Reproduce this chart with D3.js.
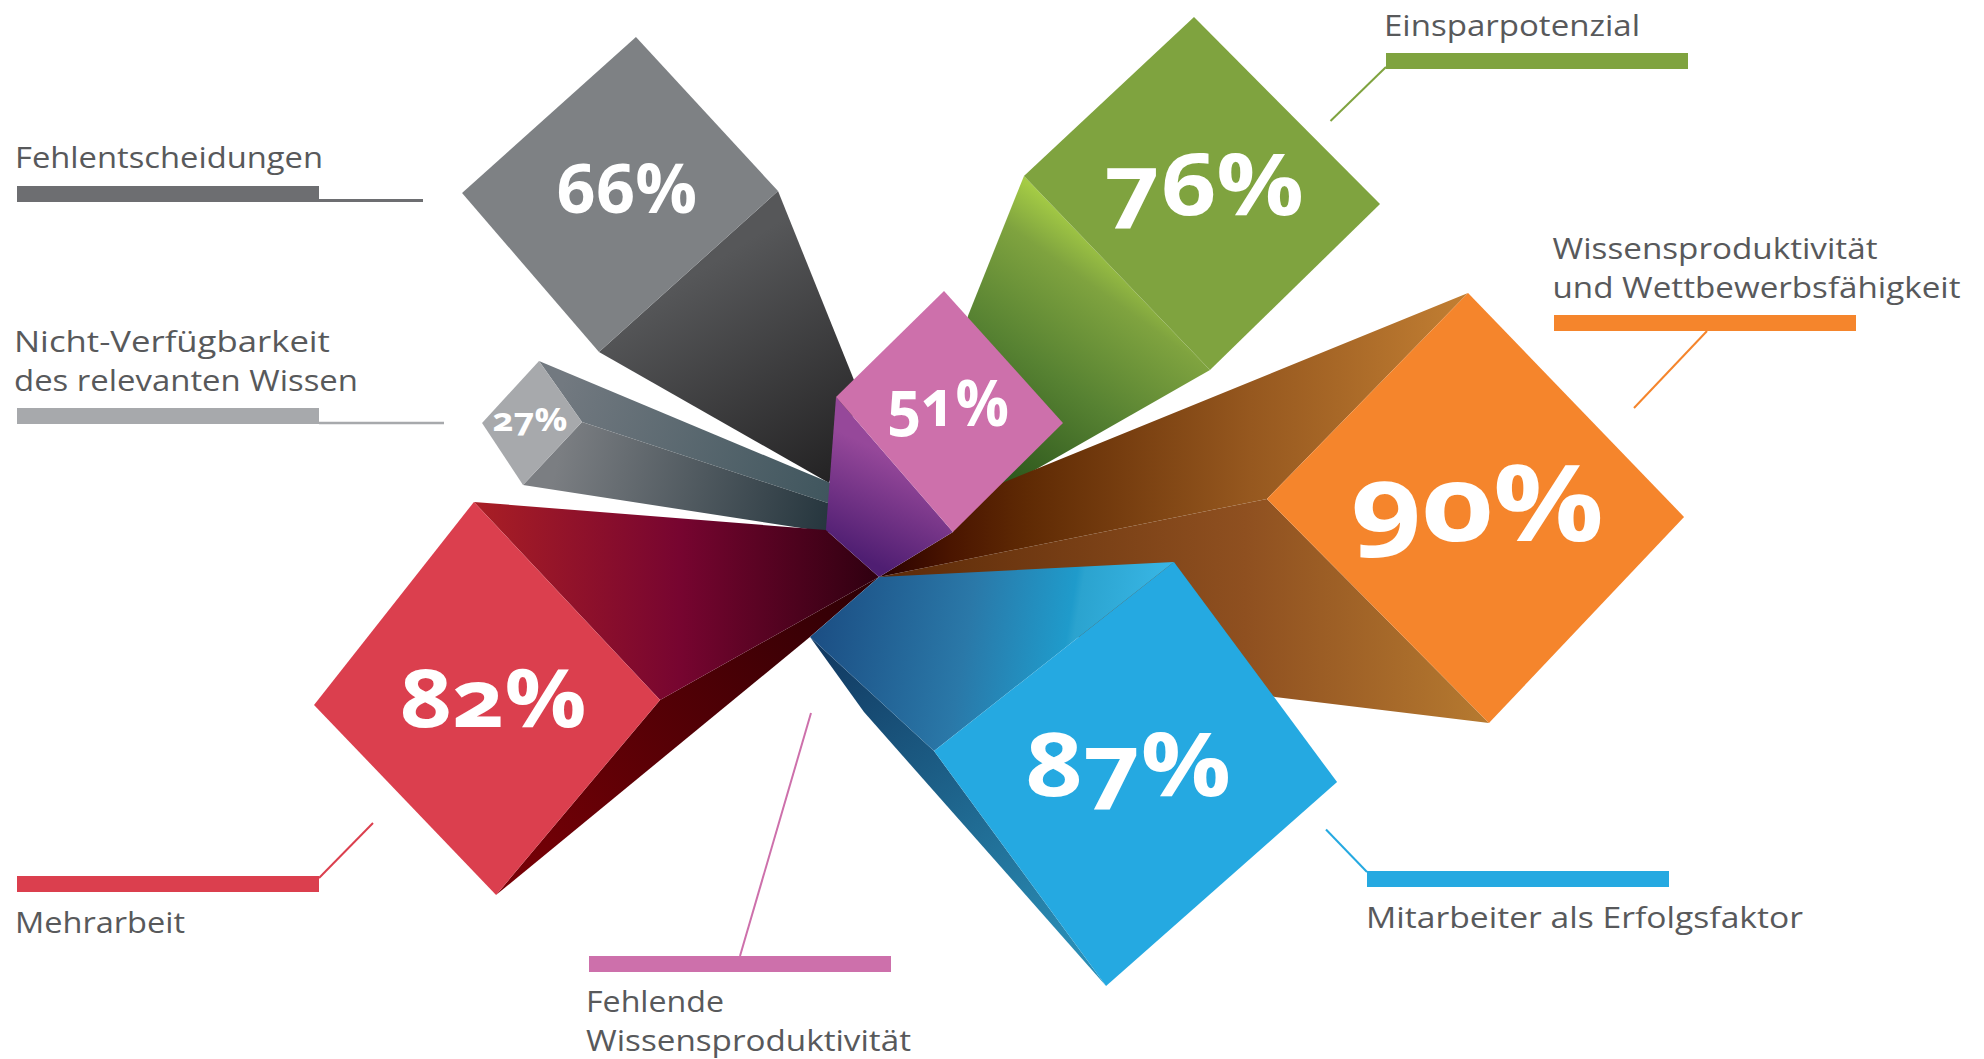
<!DOCTYPE html>
<html><head><meta charset="utf-8">
<script src="https://cdn.jsdelivr.net/npm/d3@7/dist/d3.min.js"></script>
<style>html,body{margin:0;padding:0;background:#fff;overflow:hidden}svg{display:block}
text{font-family:"Open Sans",sans-serif}</style></head><body>
<svg id="c" width="1984" height="1059"></svg>
<script>
// ---- data
const categories = ["Fehlentscheidungen","Nicht-Verfügbarkeit des relevanten Wissen","Einsparpotenzial","Fehlende Wissensproduktivität","Wissensproduktivität und Wettbewerbsfähigkeit","Mitarbeiter als Erfolgsfaktor","Mehrarbeit"];
const values = [66,27,76,51,90,87,82];
const labelLines = [["Fehlentscheidungen"],["Nicht-Verfügbarkeit","des relevanten Wissen"],["Einsparpotenzial"],["Fehlende","Wissensproduktivität"],["Wissensproduktivität","und Wettbewerbsfähigkeit"],["Mitarbeiter als Erfolgsfaktor"],["Mehrarbeit"]];

// ---- layout and style (offsets from the hub, in units of the value scale)
const hub = [879,577];
const size = d3.scaleLinear().domain([0,100]).range([0,250]);
const colors = ["#7e8184","#a7a9ac","#7fa33f","#cd70ab","#f5852c","#25a9e1","#db3f4e"];
const barColors = ["#6d6e71","#a7a9ac","#7fa33f","#cd70ab","#f5852c","#25a9e1","#db3f4e"];
const drawOrder = [0,1,2,6,4,5,3];
const diamonds = [
 [[-1.473,-3.273],[-.612,-2.339],[-1.697,-1.364],[-2.527,-2.327]],
 [[-5.037,-3.2],[-4.4,-2.296],[-5.274,-1.363],[-5.881,-2.281]],
 [[1.658,-2.947],[2.637,-1.963],[1.742,-1.089],[.763,-2.111]],
 [[.51,-2.243],[1.443,-1.208],[.58,-.353],[-.337,-1.412]],
 [[2.618,-1.262],[3.578,-.267],[2.711,.649],[1.724,-.347]],
 [[1.356,-.069],[2.106,.943],[1.044,1.88],[.253,.8]],
 [[-1.976,-.366],[-1.068,.6],[-1.868,1.551],[-2.756,.624]]
];
const sideFaces = [
 [{p:[[-.612,-2.339],[-1.697,-1.364],[-.303,-.57],[-.115,-1.103]],g:[700,270,830,480],s:[[0,"#565759"],[1,"#242324"]]}],
 [{p:[[-5.037,-3.2],[-4.4,-2.296],[-.578,-1.037],[-.578,-1.333]],g:[560,390,830,490],s:[[0,"#727980"],[1,"#40565e"]]},
  {p:[[-4.4,-2.296],[-5.274,-1.363],[-.578,-.637],[-.578,-1.037]],g:[560,450,830,515],s:[[0,"#7b7e82"],[1,"#26363e"]]}],
 [{p:[[.763,-2.111],[1.742,-1.089],[.637,-.458],[.374,-.668],[.468,-1.374]],g:[1080,220,930,430],s:[[0,"#a5cc45"],[.18,"#7fa33f"],[.55,"#578232"],[1,"#2c561c"]]}],
 [{p:[[-.337,-1.412],[.58,-.353],[0,0],[-.416,-.369]],g:[900,460,855,555],s:[[0,"#96489a"],[1,"#4f1e72"]]}],
 [{p:[[1.76,.533],[2.711,.649],[1.724,-.347],[0,0]],g:[880,0,1489,0],s:[[0,"#5c2a08"],[.6,"#8f5020"],[1,"#b67a30"]]},
  {p:[[2.618,-1.262],[1.724,-.347],[0,0],[.329,-.2],[.36,-.342]],g:[880,0,1468,0],s:[[0,"#2a0000"],[.12,"#4a1500"],[.25,"#5f2a04"],[.63,"#96581f"],[1,"#c27f33"]]}],
 [{p:[[-.317,.276],[.253,.8],[1.044,1.88],[-.069,.621]],g:[830,650,1060,960],s:[[0,"#123b63"],[1,"#2a8db5"]]},
  {p:[[1.356,-.069],[.253,.8],[-.317,.276],[0,0]],g:[810,560,1174,620],s:[[0,"#1a4a80"],[.45,"#2a78a8"],[.72,"#1f9bcb"],[.74,"#2ba3cf"],[1,"#3ab9e8"]]}],
 [{p:[[-1.068,.6],[-1.868,1.551],[-.337,.293],[0,0]],g:[500,890,860,590],s:[[0,"#7a0006"],[1,"#300005"]]},
  {p:[[-1.976,-.366],[-1.068,.6],[0,0],[-.259,-.229]],g:[480,0,879,0],s:[[0,"#a81e25"],[.5,"#770530"],[1,"#2f0010"]]}]
];
// percent label: x-centre, baseline, font size, width
const pctStyle = [[626.5,213,68,141],[530,431,33,75],[1204,215,86,200],[948,426,64,122],[1477.5,541,106,253],[1128,796,88,206],[493,727,80,187]];
// legend: bar x, bar y, connector, text x, text baselines, text widths
const legendStyle = [
 {x:17,y:186,tail:[319,200.5,423,200.5,3],tx:15,b:[168],w:[308]},
 {x:17,y:408,tail:[319,423,444,423,2.5],tx:14,b:[352,390.5],w:[316,344]},
 {x:1386,y:53,tail:[1386,67,1330.5,121,2],tx:1384,b:[35.5],w:[256]},
 {x:589,y:956,tail:[740,956,811,713,2],tx:586,b:[1012,1050.5],w:[138,325]},
 {x:1554,y:315,tail:[1707,331,1634,408,2],tx:1552.5,b:[259,297.5],w:[325,408]},
 {x:1367,y:871,tail:[1367,872,1326,829.5,2],tx:1366,b:[928],w:[437]},
 {x:17,y:876,tail:[319,878,373,823,2],tx:15,b:[933],w:[170]}
];
const barWidth = 302, barHeight = 16;

// ---- drawing
const svg = d3.select("#c");
const defs = svg.append("defs");
const toXY = (o,s)=>[hub[0]+o[0]*s, hub[1]+o[1]*s];
const line = d3.line();
const rays = values.map((v,i)=>({v,i,name:categories[i]}));

const g = svg.selectAll("g.ray").data(drawOrder.map(i=>rays[i])).join("g").attr("class","ray");
g.each(function(d){
  const s = size(d.v), sel = d3.select(this);
  sideFaces[d.i].forEach((f,k)=>{
    const id = `grad${d.i}_${k}`;
    const gr = defs.append("linearGradient").attr("id",id).attr("gradientUnits","userSpaceOnUse")
      .attr("x1",f.g[0]).attr("y1",f.g[1]).attr("x2",f.g[2]).attr("y2",f.g[3]);
    f.s.forEach(st=>gr.append("stop").attr("offset",st[0]).attr("stop-color",st[1]));
    sel.append("path").attr("d",line(f.p.map(o=>toXY(o,s)))+"Z").attr("fill",`url(#${id})`);
  });
  sel.append("path").attr("d",line(diamonds[d.i].map(o=>toXY(o,s)))+"Z").attr("fill",colors[d.i]);
  const p = pctStyle[d.i];
  sel.append("text").attr("x",p[0]).attr("y",p[1]).attr("text-anchor","middle")
    .attr("font-size",p[2]).attr("font-weight",700).attr("fill","#fff")
    .attr("textLength",p[3]).attr("lengthAdjust","spacingAndGlyphs")
    .style("font-variant-numeric","oldstyle-nums").style("font-feature-settings",'"onum"')
    .text(d.v+"%");
});

const leg = svg.selectAll("g.legend").data(rays).join("g").attr("class","legend");
leg.append("rect").attr("x",d=>legendStyle[d.i].x).attr("y",d=>legendStyle[d.i].y)
  .attr("width",barWidth).attr("height",barHeight).attr("fill",d=>barColors[d.i]);
leg.append("line").each(function(d){const t=legendStyle[d.i].tail;
  d3.select(this).attr("x1",t[0]).attr("y1",t[1]).attr("x2",t[2]).attr("y2",t[3])
   .attr("stroke",barColors[d.i]).attr("stroke-width",t[4]);});
leg.append("text").attr("font-size",30).attr("fill","#58595b").each(function(d){
  const L = legendStyle[d.i];
  d3.select(this).selectAll("tspan").data(labelLines[d.i]).join("tspan")
    .attr("x",L.tx).attr("y",(_,k)=>L.b[k])
    .attr("textLength",(_,k)=>L.w[k]).attr("lengthAdjust","spacingAndGlyphs").text(t=>t);
});
</script></body></html>
